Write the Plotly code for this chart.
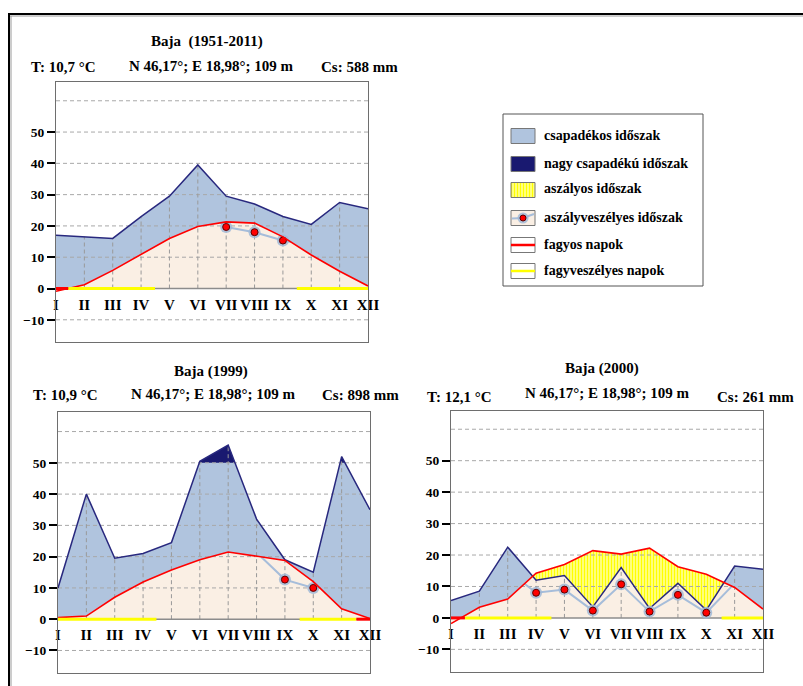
import plotly.graph_objects as go

W, H = 803, 686

MONTHS = ["I", "II", "III", "IV", "V", "VI", "VII", "VIII", "IX", "X", "XI", "XII"]
TEMP_TICKS = [-10, 0, 10, 20, 30, 40, 50]
PREC_TICK_POS = [0, 10, 20, 30, 40, 50, 60]
PREC_TICK_TEXT = ["0", "20", "40", "60", "80", "100", "300"]
GRID_LEVELS = [-10, 10, 20, 30, 40, 50, 60]

# ---- panel 1: Baja (1951-2011)
P1_TITLE = "Baja\u00a0\u00a0(1951-2011)"
P1_T = "T: 10,7 °C"
P1_CS = "Cs: 588 mm"
P1_TEMP = [-0.9, 1.2, 5.8, 11.0, 16.0, 19.8, 21.3, 20.9, 16.5, 10.7, 5.5, 0.8]
P1_PREC = [34, 33, 32, 46, 59, 79, 59, 54, 46, 41, 55, 51]
P1_FAGYOS = [(0.0, 0.43)]
P1_FAGYVESZ = [(0.43, 3.49), (8.49, 11.0)]
P1_NAGY = None

# ---- panel 2: Baja (1999)
P2_TITLE = "Baja (1999)"
P2_T = "T: 10,9 °C"
P2_CS = "Cs: 898 mm"
P2_TEMP = [0.5, 1.0, 7.0, 11.9, 15.7, 19.0, 21.5, 20.1, 18.8, 12.0, 3.3, 0.2]
P2_PREC = [20, 80, 39, 42, 49, 110, 214, 64, 38, 30, 140, 70]
P2_FAGYOS = [(10.52, 11.0)]
P2_FAGYVESZ = [(0.0, 3.47), (8.52, 10.52)]
P2_NAGY = "VI"

# ---- panel 3: Baja (2000)
P3_TITLE = "Baja (2000)"
P3_T = "T: 12,1 °C"
P3_CS = "Cs: 261 mm"
P3_TEMP = [-1.8, 3.4, 6.0, 14.2, 17.0, 21.4, 20.3, 22.2, 16.3, 13.9, 9.7, 2.8]
P3_PREC = [11, 17, 45, 24, 27, 7, 32, 6, 22, 5, 33, 31]
P3_FAGYOS = [(0.0, 0.49)]
P3_FAGYVESZ = [(0.49, 3.54), (9.54, 11.0)]
P3_NAGY = None

COORD = "N 46,17°; E 18,98°; 109 m"

LEGEND_ITEMS = ["csapadékos időszak", "nagy csapadékú időszak", "aszályos időszak",
                "aszályveszélyes időszak", "fagyos napok", "fagyveszélyes napok"]

BLUE = "#B0C4DE"
NAVY = "#191970"
NAVY_LINE = "#28287E"
BEIGE = "#FAEFE4"
YELLOW = "#FFFF00"
RED = "#FF0000"
LBLUE = "#A6BDDA"
FONT = "Liberation Serif, Times New Roman, Times, DejaVu Serif, serif"


def p_to_y(p):
    return p / 2.0 if p <= 100 else 50 + (p - 100) / 20.0


def runs_below(xs, a, b):
    """contiguous runs where a < b, with interpolated crossing points"""
    out, cur = [], None
    for i in range(len(xs)):
        inside = a[i] < b[i]
        if i > 0:
            was = a[i - 1] < b[i - 1]
            if inside != was:
                d0 = b[i - 1] - a[i - 1]
                d1 = b[i] - a[i]
                t = d0 / (d0 - d1)
                xc = xs[i - 1] + t * (xs[i] - xs[i - 1])
                yc = a[i - 1] + t * (a[i] - a[i - 1])
                if was:
                    cur.append((xc, yc, yc))
                    out.append(cur)
                    cur = None
                else:
                    cur = [(xc, yc, yc)]
        if inside:
            if cur is None:
                cur = []
            cur.append((xs[i], a[i], b[i]))
    if cur:
        out.append(cur)
    return out


def polys(runs):
    px, py = [], []
    for r in runs:
        px += [p[0] for p in r] + [p[0] for p in reversed(r)] + [None]
        py += [p[2] for p in r] + [p[1] for p in reversed(r)] + [None]
    return px, py


HATCH = dict(shape="|", fgcolor=YELLOW, bgcolor="#FFFFF6", size=3, solidity=0.67, fgopacity=1)

fig = go.Figure()
layout_axes = {}
annotations = []

PANELS = [
    dict(n=1, box=(56, 368, 82, 342), rng=[-17.1, 66.0], title=P1_TITLE, t=P1_T, cs=P1_CS,
         temp=P1_TEMP, prec=P1_PREC, fagyos=P1_FAGYOS, fagyvesz=P1_FAGYVESZ, nagy=P1_NAGY,
         tpos=(207, 41), tl=(29, 67), cp=(211, 66), csr=(400, 67)),
    dict(n=2, box=(58, 370, 412, 673), rng=[-17.2, 66.25], title=P2_TITLE, t=P2_T, cs=P2_CS,
         temp=P2_TEMP, prec=P2_PREC, fagyos=P2_FAGYOS, fagyvesz=P2_FAGYVESZ, nagy=P2_NAGY,
         tpos=(211, 371), tl=(31, 395), cp=(213.5, 394), csr=(401, 395)),
    dict(n=3, box=(451, 763, 411, 672), rng=[-17.2, 65.8], title=P3_TITLE, t=P3_T, cs=P3_CS,
         temp=P3_TEMP, prec=P3_PREC, fagyos=P3_FAGYOS, fagyvesz=P3_FAGYVESZ, nagy=P3_NAGY,
         tpos=(602, 369), tl=(425, 396.5), cp=(607.5, 393), csr=(796, 396.5)),
]

tickfont = dict(family=FONT, size=13.5, color="black", weight="bold")

for pn in PANELS:
    n = pn["n"]
    xa = "x" if n == 1 else f"x{n}"
    ya_i = 2 * n - 1
    ya = "y" if ya_i == 1 else f"y{ya_i}"
    x0, x1, top, bot = pn["box"]
    xs = list(range(12))
    temp = pn["temp"]
    peq = [p_to_y(p) for p in pn["prec"]]
    p3 = [p / 3.0 for p in pn["prec"]]
    common = dict(xaxis=xa, yaxis=ya, hoverinfo="skip", showlegend=False)

    # precipitation area
    fig.add_trace(go.Scatter(x=xs, y=peq, mode="lines", fill="tozeroy", fillcolor=BLUE,
                             line=dict(width=0), **common))
    # heavy precipitation (> 100 mm)
    if pn["nagy"] is not None:
        s = MONTHS.index(pn["nagy"])
        r = runs_below(xs[s:], [50] * (12 - s), peq[s:])
        hx, hy = polys(r)
        fig.add_trace(go.Scatter(x=hx, y=hy, mode="lines", fill="toself", fillcolor=NAVY,
                                 line=dict(width=0), **common))
    # temperature area
    fig.add_trace(go.Scatter(x=xs, y=temp, mode="lines", fill="tozeroy", fillcolor=BEIGE,
                             line=dict(width=0), **common))
    # drought (precip below temperature)
    dx, dy = polys(runs_below(xs, peq, temp))
    if dx:
        fig.add_trace(go.Scatter(x=dx, y=dy, mode="lines", fill="toself", fillcolor="white",
                                 fillpattern=HATCH, line=dict(width=0), **common))
    # horizontal grid
    gx, gy = [], []
    for g in GRID_LEVELS:
        gx += [0, 11, None]
        gy += [g, g, None]
    fig.add_trace(go.Scatter(x=gx, y=gy, mode="lines",
                             line=dict(color="#A8A8A8", width=1, dash="4px,3px"), **common))
    # month drop lines
    vx, vy = [], []
    for i in xs[1:-1]:
        vx += [i, i, None]
        vy += [0, peq[i], None]
    fig.add_trace(go.Scatter(x=vx, y=vy, mode="lines",
                             line=dict(color="#999999", width=1, dash="4px,3px"), **common))
    # zero line
    fig.add_trace(go.Scatter(x=[0, 11], y=[0, 0], mode="lines",
                             line=dict(color="#8C8C8C", width=1.5), **common))
    # precipitation line
    fig.add_trace(go.Scatter(x=xs, y=peq, mode="lines", line=dict(color=NAVY_LINE, width=1.5),
                             **common))
    # drought danger (P/3 below T)
    lx, ly = [], []
    for r in runs_below(xs, p3, temp):
        lx += [p[0] for p in r] + [None]
        ly += [p[1] for p in r] + [None]
    dmx = [i for i in xs if p3[i] < temp[i]]
    dmy = [p3[i] for i in dmx]
    if lx:
        fig.add_trace(go.Scatter(x=lx, y=ly, mode="lines", line=dict(color=LBLUE, width=2),
                                 connectgaps=False, **common))
        fig.add_trace(go.Scatter(x=dmx, y=dmy, mode="markers",
                                 marker=dict(size=12, color="rgba(160,184,214,0.85)"), **common))
        fig.add_trace(go.Scatter(x=dmx, y=dmy, mode="markers",
                                 marker=dict(size=7, color=RED, line=dict(color="#5A0000", width=1)),
                                 **common))
    # temperature line
    fig.add_trace(go.Scatter(x=xs, y=temp, mode="lines", line=dict(color=RED, width=1.6),
                             **common))
    # frost lines along 0
    for segs, col in ((pn["fagyvesz"], YELLOW), (pn["fagyos"], RED)):
        fx, fy = [], []
        for a, b in segs:
            fx += [a, b, None]
            fy += [0, 0, None]
        fig.add_trace(go.Scatter(x=fx, y=fy, mode="lines", line=dict(color=col, width=3),
                                 cliponaxis=False, **common))
    # month labels
    fig.add_trace(go.Scatter(x=xs, y=[-5.6] * 12, mode="text", text=MONTHS,
                             textfont=dict(family=FONT, size=15, color="black", weight="bold"),
                             cliponaxis=False, **common))

    xkey = "xaxis" if n == 1 else f"xaxis{n}"
    ykey = "yaxis" if ya_i == 1 else f"yaxis{ya_i}"
    y2key = f"yaxis{2 * n}"
    layout_axes[xkey] = dict(domain=[x0 / W, x1 / W], range=[0, 11], anchor=ya,
                             showline=True, mirror=True, linecolor="#6E6E6E", linewidth=1,
                             showticklabels=False, ticks="", showgrid=False, zeroline=False,
                             fixedrange=True)
    layout_axes[ykey] = dict(domain=[1 - bot / H, 1 - top / H], range=pn["rng"], anchor=xa,
                             tickvals=TEMP_TICKS, ticks="outside", ticklen=8, tickwidth=2,
                             tickcolor="black", showline=True, mirror=True, linecolor="#6E6E6E",
                             linewidth=1, showgrid=False, zeroline=False, tickfont=tickfont,
                             fixedrange=True)
    layout_axes[y2key] = dict(overlaying=ya, side="right", range=pn["rng"], anchor=xa,
                              tickvals=PREC_TICK_POS, ticktext=PREC_TICK_TEXT, ticks="outside",
                              ticklen=8, tickwidth=2, tickcolor="black", showline=False,
                              showgrid=False, zeroline=False, tickfont=tickfont, fixedrange=True)

    hfont = dict(family=FONT, size=15, color="black", weight="bold")
    for txt, (px_, py_), anc in ((pn["title"], pn["tpos"], "center"), (pn["t"], pn["tl"], "left"),
                                 (COORD, pn["cp"], "center"), (pn["cs"], pn["csr"], "right")):
        annotations.append(dict(text=txt, x=px_ / W, y=1 - py_ / H, xref="paper", yref="paper",
                                xanchor=anc, yanchor="middle", showarrow=False, font=hfont))

# ---- pixel overlay axis for legend and frame
layout_axes["xaxis4"] = dict(domain=[0, 1], range=[0, W], visible=False, fixedrange=True,
                             anchor="y7")
layout_axes["yaxis7"] = dict(domain=[0, 1], range=[H, 0], visible=False, fixedrange=True,
                             anchor="x4")
pc = dict(xaxis="x4", yaxis="y7", hoverinfo="skip", showlegend=False)

shapes = []
# frame
shapes.append(dict(type="line", xref="x4", yref="y7", x0=9, x1=W, y0=16, y1=16,
                   line=dict(color="#9A9A9A", width=1)))
shapes.append(dict(type="line", xref="x4", yref="y7", x0=11, x1=11, y0=16, y1=H,
                   line=dict(color="#9A9A9A", width=1)))
shapes.append(dict(type="line", xref="x4", yref="y7", x0=8, x1=W, y0=14, y1=14,
                   line=dict(color="black", width=2)))
shapes.append(dict(type="line", xref="x4", yref="y7", x0=9, x1=9, y0=14, y1=H,
                   line=dict(color="black", width=2)))
# legend box
shapes.append(dict(type="rect", xref="x4", yref="y7", x0=503, x1=703, y0=114, y1=286,
                   line=dict(color="#555555", width=1), fillcolor="white", layer="below"))

LEG_Y = [136, 164, 190, 218, 245, 271]
sx0, sx1, sh = 511, 535, 7.5
fills = [BLUE, NAVY, None, BEIGE, "white", "white"]
for k, (lab, cy) in enumerate(zip(LEGEND_ITEMS, LEG_Y)):
    if k == 2:
        fig.add_trace(go.Scatter(x=[sx0, sx1, sx1, sx0, sx0], y=[cy - sh, cy - sh, cy + sh, cy + sh, cy - sh],
                                 mode="lines", fill="toself", fillcolor="white",
                                 fillpattern=HATCH, line=dict(width=0), **pc))
    shapes.append(dict(type="rect", xref="x4", yref="y7", x0=sx0, x1=sx1, y0=cy - sh, y1=cy + sh,
                       line=dict(color="#777777", width=1),
                       fillcolor=fills[k] if fills[k] else "rgba(0,0,0,0)",
                       layer="below" if fills[k] else "above"))
    annotations.append(dict(text=lab, x=542 / W, y=1 - (cy - 1) / H, xref="paper", yref="paper",
                            xanchor="left", yanchor="middle", showarrow=False,
                            font=dict(family=FONT, size=14, color="black", weight="bold")))

# legend swatch details
fig.add_trace(go.Scatter(x=[sx0 + 1, 523, sx1 - 1], y=[LEG_Y[3] + 0.5, LEG_Y[3], LEG_Y[3] - 4],
                         mode="lines", line=dict(color=LBLUE, width=2), **pc))
fig.add_trace(go.Scatter(x=[523], y=[LEG_Y[3]], mode="markers",
                         marker=dict(size=11, color="rgba(160,184,214,0.85)"), **pc))
fig.add_trace(go.Scatter(x=[523], y=[LEG_Y[3]], mode="markers",
                         marker=dict(size=6, color=RED, line=dict(color="#5A0000", width=1)), **pc))
fig.add_trace(go.Scatter(x=[sx0, sx1], y=[LEG_Y[4], LEG_Y[4]], mode="lines",
                         line=dict(color=RED, width=2.5), **pc))
fig.add_trace(go.Scatter(x=[sx0, sx1], y=[LEG_Y[5], LEG_Y[5]], mode="lines",
                         line=dict(color=YELLOW, width=2.5), **pc))

fig.update_layout(width=W, height=H, margin=dict(l=0, r=0, t=0, b=0),
                  paper_bgcolor="white", plot_bgcolor="rgba(0,0,0,0)",
                  font=dict(family=FONT),
                  showlegend=False, annotations=annotations, shapes=shapes, **layout_axes)

fig.write_html("out.html", config={"displayModeBar": False},
               post_script="document.body.style.margin='0px';document.body.style.padding='0px';")
